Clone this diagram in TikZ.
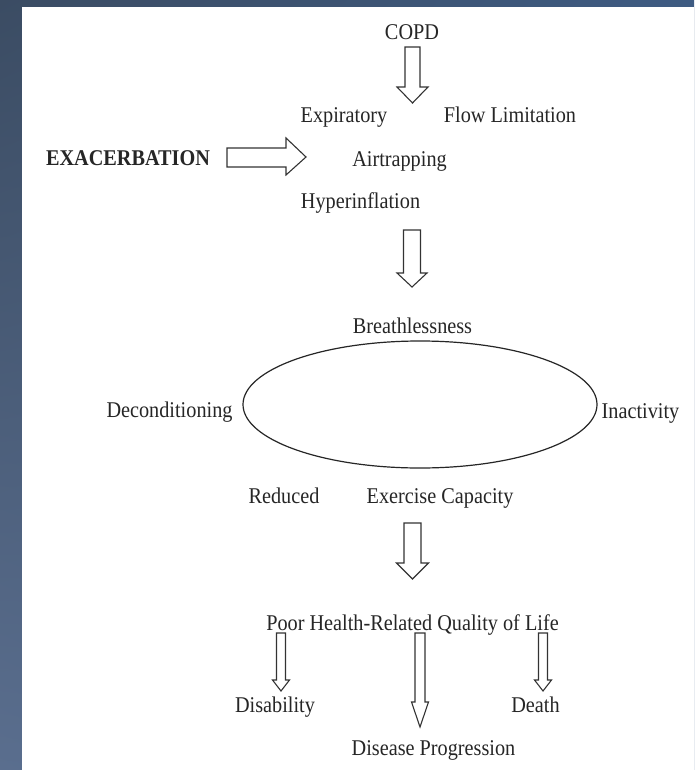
\documentclass[tikz,border=0pt]{standalone}
\usepackage{fontspec}
\setmainfont{Liberation Serif}[FakeStretch=0.9]
\usetikzlibrary{shapes.geometric,shadings}
\definecolor{bgUL}{HTML}{3B4C63}
\definecolor{bgUR}{HTML}{3E5B82}
\definecolor{bgLL}{HTML}{5A6E8E}
\definecolor{bgLR}{HTML}{4A6890}
\tikzset{
  lbl/.style={inner sep=0pt, anchor=base, text=black!85, font=\fontsize{22.5}{27}\selectfont},
  blbl/.style={lbl, font=\fontsize{22.5}{27}\selectfont\bfseries},
  barrow/.style={draw=black!80, line width=1.1pt, fill=white, line join=miter},
  loopell/.style={ellipse, draw=black!85, line width=1.2pt, inner sep=0pt, minimum width=354pt, minimum height=127pt},
}
% cx, top y, shaft half width, head half width, head base y, tip y
\newcommand\downblock[6]{%
  \draw[barrow] ({#1-#3},#2) -- ({#1+#3},#2) -- ({#1+#3},#5) -- ({#1+#4},#5) -- (#1,#6) -- ({#1-#4},#5) -- ({#1-#3},#5) -- cycle;}
\begin{document}
\begin{tikzpicture}[x=1pt,y=-1pt]
\useasboundingbox (0,0) rectangle (694,770);
\shade[upper left=bgUL, upper right=bgUR, lower left=bgLL, lower right=bgLR] (0,0) rectangle (694,770);
\fill[white] (22,7) rectangle (694,770);

% texts
\node[lbl] (copd) at (412,40) {COPD};
\node[lbl] (expir) at (344,123) {Expiratory};
\node[lbl] (flow) at (510,123) {Flow Limitation};
\node[blbl] (exac) at (128,166) {EXACERBATION};
\node[lbl] (air) at (399.5,167) {Airtrapping};
\node[lbl] (hyper) at (360.5,208) {Hyperinflation};
\node[lbl] (breath) at (412.5,333) {Breathlessness};
\node[lbl] (decond) at (169.5,417) {Deconditioning};
\node[lbl] (inact) at (640.5,418) {Inactivity};
\node[lbl] (reduced) at (284,503) {Reduced};
\node[lbl] (exercise) at (440,503) {Exercise Capacity};
\node[lbl] (poor) at (412.5,630) {Poor Health-Related Quality of Life};
\node[lbl] (disab) at (275,712) {Disability};
\node[lbl] (death) at (535.5,712) {Death};
\node[lbl] (prog) at (433.5,755) {Disease Progression};

% cycle ellipse
\node[loopell] (cycle) at (420,404.5) {};

% block arrows
\downblock{412.5}{47}{7.5}{15.5}{87}{103}
\downblock{412}{230}{8.5}{15}{273}{287}
\downblock{412.5}{523}{8.5}{16}{563}{579}
\downblock{281}{633}{4.5}{8.5}{680}{691}
\downblock{420}{633}{5}{8.5}{702}{727}
\downblock{543}{633}{4.5}{8.5}{680}{691}
% exacerbation arrow (pointing right)
\draw[barrow] (227,148) -- (286,148) -- (286,138) -- (306,157) -- (286,175) -- (286,167) -- (227,167) -- cycle;
\end{tikzpicture}
\end{document}
